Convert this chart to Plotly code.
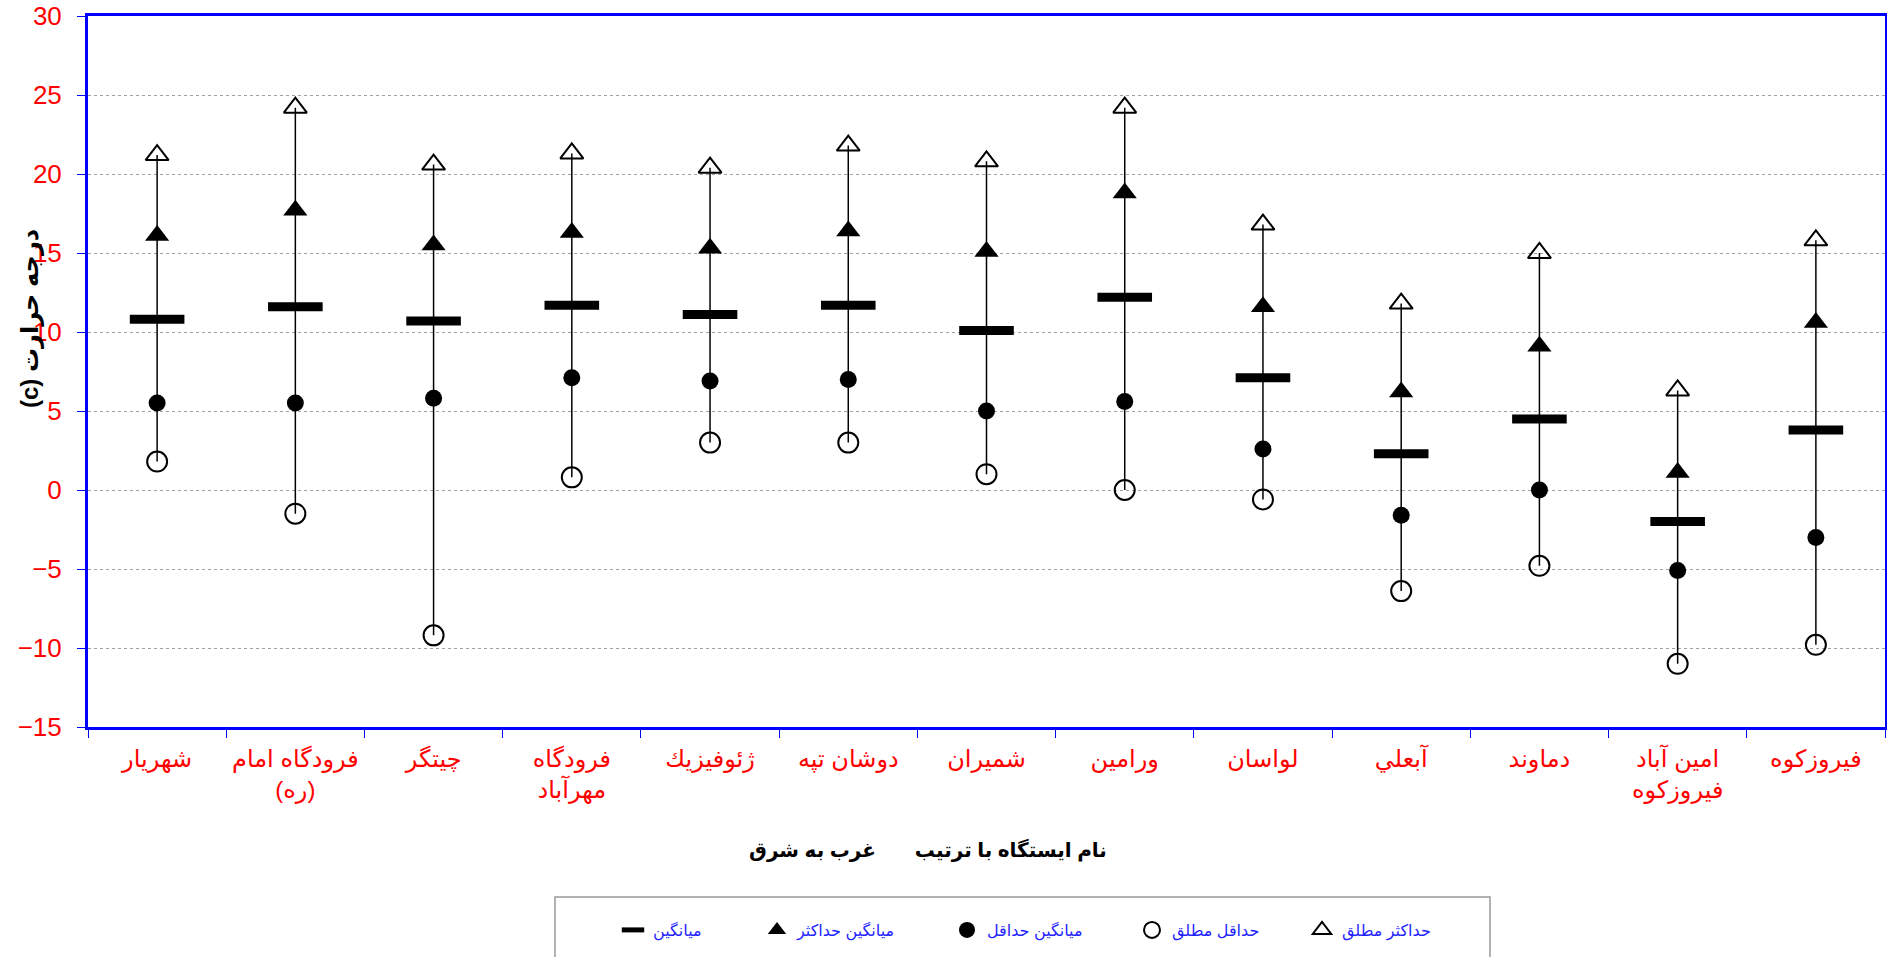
import plotly.graph_objects as go

stations = ["شهريار", "فرودگاه امام<br>(ره)", "چيتگر", "فرودگاه<br>مهرآباد", "ژئوفيزيك",
            "دوشان تپه", "شميران", "ورامين", "لواسان", "آبعلي", "دماوند",
            "امين آباد<br>فيروزكوه", "فيروزكوه"]
mean_t = [10.8, 11.6, 10.7, 11.7, 11.1, 11.7, 10.1, 12.2, 7.1, 2.3, 4.5, -2.0, 3.8]
mean_max = [16.1, 17.7, 15.5, 16.3, 15.3, 16.4, 15.1, 18.8, 11.6, 6.2, 9.1, 1.1, 10.6]
mean_min = [5.5, 5.5, 5.8, 7.1, 6.9, 7.0, 5.0, 5.6, 2.6, -1.6, 0.0, -5.1, -3.0]
abs_min = [1.8, -1.5, -9.2, 0.8, 3.0, 3.0, 1.0, 0.0, -0.6, -6.4, -4.8, -11.0, -9.8]
abs_max = [21.2, 24.2, 20.6, 21.3, 20.4, 21.8, 20.8, 24.2, 16.8, 11.8, 15.0, 6.3, 15.8]

names = {
    "mean": "میانگین",
    "mean_max": "میانگین حداکثر",
    "mean_min": "میانگین حداقل",
    "abs_min": "حداقل مطلق",
    "abs_max": "حداکثر مطلق",
}

FONT = "Arial, Liberation Sans, DejaVu Sans, sans-serif"
W, H = 1887, 957
ML, MR, MT, MB = 88, 2, 16, 230
PW = W - ML - MR
PH = H - MT - MB

def px_x(p):
    return (p - ML) / PW

def px_y(p):
    return (H - MB - p) / PH

fig = go.Figure()

# vertical range lines
lx, ly = [], []
for s, lo, hi in zip(stations, abs_min, abs_max):
    lx += [s, s, None]
    ly += [lo, hi, None]
fig.add_trace(go.Scatter(x=lx, y=ly, mode="lines", line=dict(color="black", width=1.5),
                         showlegend=False, hoverinfo="skip"))

fig.add_trace(go.Scatter(x=stations, y=mean_t, mode="markers", name=names["mean"],
                         marker=dict(symbol="line-ew", size=39, line=dict(color="black", width=9)),
                         legend="legend"))
fig.add_trace(go.Scatter(x=stations, y=mean_max, mode="markers", name=names["mean_max"],
                         marker=dict(symbol="triangle-up", size=21, color="black"),
                         legend="legend2"))
fig.add_trace(go.Scatter(x=stations, y=mean_min, mode="markers", name=names["mean_min"],
                         marker=dict(symbol="circle", size=17, color="black"),
                         legend="legend3"))
fig.add_trace(go.Scatter(x=stations, y=abs_min, mode="markers", name=names["abs_min"],
                         marker=dict(symbol="circle-open", size=20, color="black",
                                     line=dict(width=2, color="black")),
                         legend="legend4"))
fig.add_trace(go.Scatter(x=stations, y=abs_max, mode="markers", name=names["abs_max"],
                         marker=dict(symbol="triangle-up-open", size=20, color="black",
                                     line=dict(width=2, color="black")),
                         legend="legend5"))

leg_common = dict(orientation="h", yanchor="middle", xanchor="left",
                  bgcolor="rgba(0,0,0,0)", borderwidth=0,
                  font=dict(family=FONT, size=16, color="#1f1fff"))
sym_centers = [633, 777, 967, 1152, 1322]
leg_y = px_y(930)
layout_legends = {}
for i, c in enumerate(sym_centers):
    key = "legend" if i == 0 else f"legend{i+1}"
    layout_legends[key] = dict(x=px_x(c - 20), y=leg_y, **leg_common)

fig.update_layout(
    width=W, height=H,
    margin=dict(l=ML, r=MR, t=MT, b=MB, autoexpand=False),
    paper_bgcolor="white", plot_bgcolor="white",
    font=dict(family=FONT),
    showlegend=True,
    **layout_legends,
)

fig.update_xaxes(
    type="category", range=[-0.5, len(stations) - 0.5],
    tickson="boundaries", ticks="outside", ticklen=8, tickcolor="blue", tickwidth=1,
    showline=True, linecolor="blue", linewidth=3, mirror=True,
    showgrid=False, zeroline=False,
    tickfont=dict(family=FONT, size=24, color="red"),
    ticklabelstandoff=8,
)
fig.update_yaxes(
    range=[-15, 30], dtick=5, tick0=0,
    ticks="outside", ticklen=8, tickcolor="blue", tickwidth=1,
    showline=True, linecolor="blue", linewidth=3, mirror=True,
    showgrid=True, gridcolor="#a0a0a0", gridwidth=1, griddash="dot",
    zeroline=False,
    tickfont=dict(family=FONT, size=26, color="red"),
    ticklabelstandoff=10,
)

fig.add_annotation(text="(c) درجه حرارت", textangle=-90, showarrow=False,
                   xref="paper", yref="paper", x=px_x(30), y=px_y(319),
                   xanchor="center", yanchor="middle",
                   font=dict(family=FONT, size=24, color="black", weight="bold"))
fig.add_annotation(text="نام ايستگاه با ترتيب" + "\u00a0" * 7 + "غرب به شرق", showarrow=False,
                   xref="paper", yref="paper", x=px_x(928), y=px_y(850),
                   xanchor="center", yanchor="middle",
                   font=dict(family=FONT, size=20, color="black", weight="bold"))
fig.add_shape(type="rect", xref="paper", yref="paper",
              x0=px_x(555), x1=px_x(1490), y0=px_y(897), y1=px_y(962),
              line=dict(color="#999999", width=1.5), fillcolor="rgba(0,0,0,0)")

fig.write_html("out.html", config={"displayModeBar": False},
               post_script="document.body.style.margin='0px';")
